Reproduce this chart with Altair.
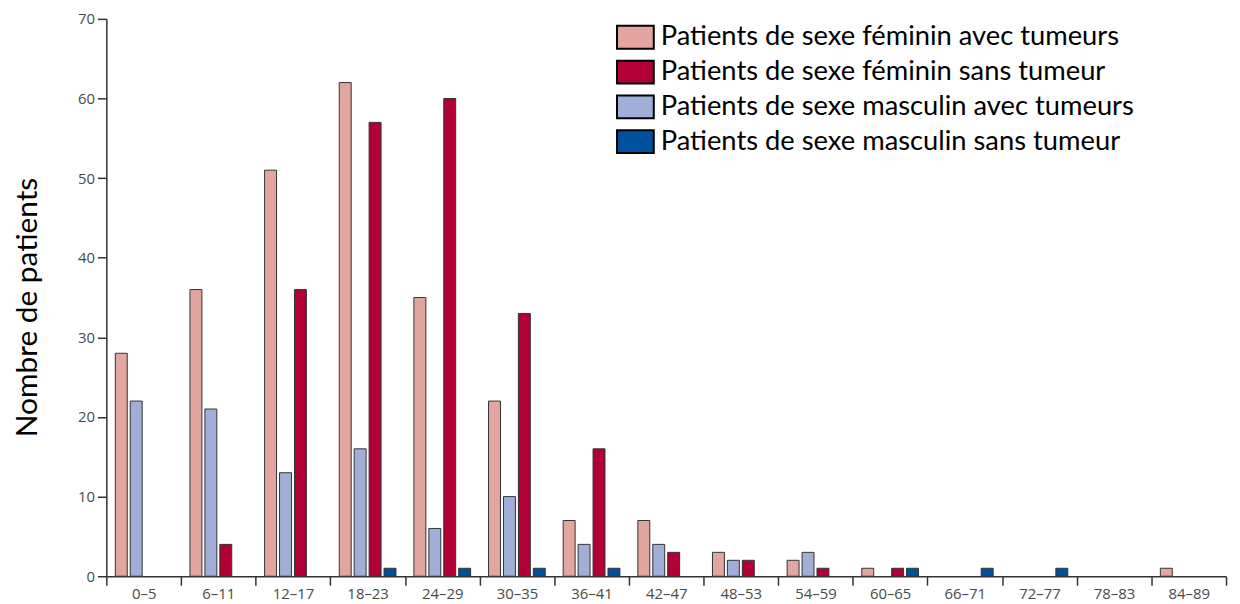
import altair as alt
import pandas as pd

ages = ["0–5", "6–11", "12–17", "18–23", "24–29", "30–35", "36–41", "42–47",
        "48–53", "54–59", "60–65", "66–71", "72–77", "78–83", "84–89"]
series = ["Patients de sexe féminin avec tumeurs",
          "Patients de sexe féminin sans tumeur",
          "Patients de sexe masculin avec tumeurs",
          "Patients de sexe masculin sans tumeur"]
bar_order = [series[0], series[2], series[1], series[3]]
colors = ["#E2A59F", "#B10036", "#A1AFD8", "#0050A0"]

fem_avec = [28, 36, 51, 62, 35, 22, 7, 7, 3, 2, 1, 0, 0, 0, 1]
fem_sans = [0, 4, 36, 57, 60, 33, 16, 3, 2, 1, 1, 0, 0, 0, 0]
masc_avec = [22, 21, 13, 16, 6, 10, 4, 4, 2, 3, 0, 0, 0, 0, 0]
masc_sans = [0, 0, 0, 1, 1, 1, 1, 0, 0, 0, 1, 1, 1, 0, 0]

rows = []
for s, vals in zip(series, [fem_avec, fem_sans, masc_avec, masc_sans]):
    for a, v in zip(ages, vals):
        rows.append({"age": a, "serie": s, "n": v})
df = pd.DataFrame(rows)
df = df[df["n"] > 0]

W, H = 1127, 561

bars = alt.Chart(df).mark_bar(stroke="#333333", strokeWidth=1).encode(
    x=alt.X("age:N", sort=ages, title=None,
            scale=alt.Scale(domain=ages, paddingInner=0, paddingOuter=0),
            axis=alt.Axis(labelAngle=0, tickBand="extent", tickSize=9,
                          labelFont="Open Sans", labelFontSize=15,
                          labelColor="#4a4a4a", labelPadding=1,
                          domainColor="#333333", tickColor="#333333",
                          domainWidth=1.5, tickWidth=1.5)),
    xOffset=alt.XOffset("serie:N", sort=bar_order,
                        scale=alt.Scale(domain=bar_order, paddingInner=0.2, paddingOuter=0.6)),
    y=alt.Y("n:Q", title="Nombre de patients",
            scale=alt.Scale(domain=[0, 70]),
            axis=alt.Axis(values=[0, 10, 20, 30, 40, 50, 60, 70], grid=False,
                          tickSize=9, labelFont="Open Sans", labelFontSize=15,
                          labelColor="#4a4a4a", labelPadding=3,
                          domainColor="#333333", tickColor="#333333",
                          domainWidth=1.5, tickWidth=1.5,
                          titleFont="Lato", titleFontSize=30, titleFontWeight="normal",
                          titleColor="#000000", titleAngle=-90,
                          titleX=-70, titleY=290, titleAlign="center",
                          titleBaseline="alphabetic")),
    color=alt.Color("serie:N", scale=alt.Scale(domain=series, range=colors),
                    legend=alt.Legend(title=None, orient="none", legendX=513, legendY=1,
                                      symbolType="M-1,-0.62H1V0.62H-1Z", symbolSize=1369,
                                      symbolStrokeColor="#000000", symbolStrokeWidth=2,
                                      labelFont="Lato", labelFontSize=27.5,
                                      labelColor="#000000", labelOffset=6,
                                      clipHeight=35, rowPadding=0, labelLimit=700)),
)

chart = bars.properties(
    width=W, height=H,
    autosize=alt.AutoSizeParams(type="none"),
    padding={"left": 99, "top": 9, "right": 6, "bottom": 26},
).configure_view(stroke=None)

chart.save("out.html", embed_options={"renderer": "svg", "actions": False})
